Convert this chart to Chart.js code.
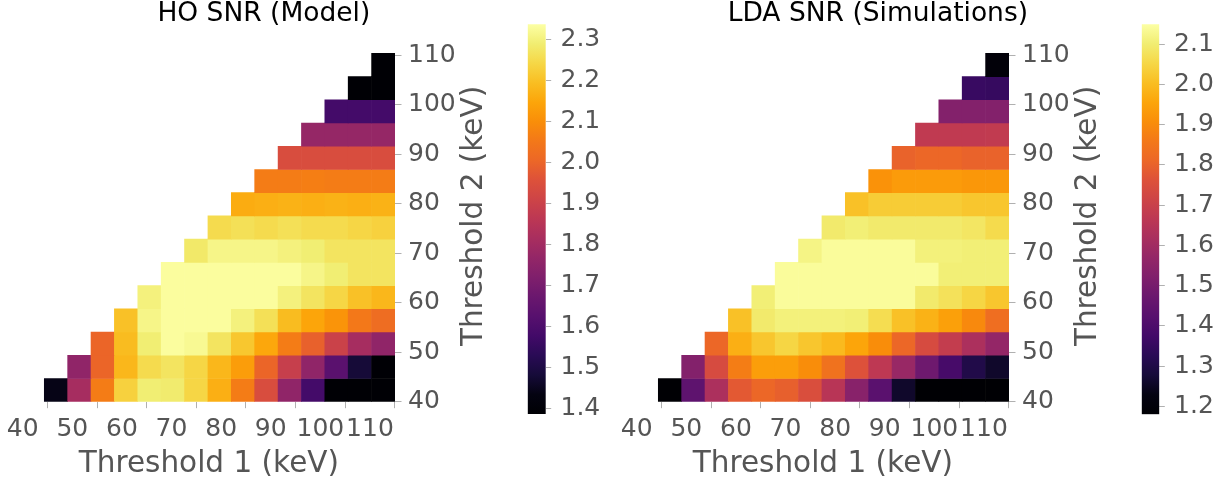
<!DOCTYPE html>
<html lang="en">
<head>
<meta charset="UTF-8">
<title>HO SNR (Model) / LDA SNR (Simulations)</title>
<script src="https://cdn.jsdelivr.net/npm/chart.js@4"></script>
<style>
  body { margin: 0; background: #fff; }
  .wrap { position: relative; width: 1226px; height: 482px; overflow: hidden; }
  canvas { position: absolute; top: 0; }
</style>
</head>
<body>
<div class="wrap">
  <canvas id="hoMap" width="505" height="482" style="left:0px"></canvas>
  <canvas id="hoBar" width="90" height="482" style="left:520px"></canvas>
  <canvas id="ldaMap" width="505" height="482" style="left:614px"></canvas>
  <canvas id="ldaBar" width="92" height="482" style="left:1134px"></canvas>
</div>
<script>
// cell centres along Threshold 1 and cell edges along Threshold 2 (keV)
const t1Centers = [46.71, 51.42, 56.13, 60.84, 65.56, 70.27, 74.98, 79.70, 84.41, 89.12, 93.84, 98.55, 103.26, 107.97, 112.69];
const t2Edges = [40, 44.69, 49.38, 54.07, 58.76, 63.45, 68.14, 72.83, 77.51, 82.20, 86.89, 91.58, 96.27, 100.96, 105.65, 110.34];

const t1Ticks = [40, 50, 60, 70, 80, 90, 100, 110];
const t2Ticks = [40, 50, 60, 70, 80, 90, 100, 110];
const hoBarTicks = [1.4, 1.5, 1.6, 1.7, 1.8, 1.9, 2.0, 2.1, 2.2, 2.3];
const ldaBarTicks = [1.2, 1.3, 1.4, 1.5, 1.6, 1.7, 1.8, 1.9, 2.0, 2.1];

const hoMin = 1.386, hoMax = 2.336;
const ldaMin = 1.18, ldaMax = 2.149;

// row j (bottom = 0) holds the cells of columns j..14
const hoSnr = [
  [1.44, 1.81, 2.06, 2.23, 2.29, 2.285, 2.24, 2.165, 2.06, 1.94, 1.76, 1.58, 1.39, 1.39, 1.39],
  [1.76, 2.00, 2.18, 2.25, 2.27, 2.24, 2.18, 2.13, 2.00, 1.89, 1.76, 1.63, 1.48, 1.39],
  [2.00, 2.19, 2.29, 2.33, 2.32, 2.27, 2.21, 2.15, 2.06, 1.99, 1.90, 1.81, 1.76],
  [2.20, 2.31, 2.33, 2.33, 2.33, 2.30, 2.26, 2.19, 2.146, 2.11, 2.05, 2.02],
  [2.30, 2.33, 2.33, 2.33, 2.33, 2.33, 2.30, 2.27, 2.24, 2.20, 2.18],
  [2.33, 2.33, 2.33, 2.33, 2.33, 2.33, 2.31, 2.29, 2.27, 2.27],
  [2.28, 2.31, 2.31, 2.31, 2.30, 2.29, 2.27, 2.27, 2.27],
  [2.25, 2.26, 2.25, 2.26, 2.25, 2.25, 2.24, 2.23],
  [2.16, 2.165, 2.17, 2.165, 2.17, 2.165, 2.17],
  [2.06, 2.06, 2.065, 2.06, 2.06, 2.06],
  [1.94, 1.94, 1.94, 1.94, 1.94],
  [1.77, 1.77, 1.77, 1.77],
  [1.58, 1.58, 1.58],
  [1.39, 1.39],
  [1.39]
];

const ldaSnr = [
  [1.18, 1.44, 1.625, 1.78, 1.81, 1.795, 1.75, 1.655, 1.54, 1.43, 1.26, 1.18, 1.18, 1.18, 1.18],
  [1.53, 1.74, 1.87, 1.94, 1.94, 1.905, 1.84, 1.76, 1.67, 1.58, 1.48, 1.385, 1.305, 1.26],
  [1.81, 1.975, 2.02, 2.05, 2.02, 1.995, 1.955, 1.905, 1.81, 1.74, 1.685, 1.625, 1.57],
  [2.01, 2.095, 2.11, 2.11, 2.11, 2.105, 2.065, 2.01, 1.98, 1.945, 1.895, 1.83],
  [2.105, 2.14, 2.14, 2.14, 2.14, 2.14, 2.14, 2.095, 2.075, 2.05, 2.02],
  [2.14, 2.14, 2.14, 2.14, 2.14, 2.14, 2.14, 2.105, 2.105, 2.105],
  [2.12, 2.14, 2.14, 2.14, 2.14, 2.11, 2.11, 2.105, 2.105],
  [2.095, 2.105, 2.095, 2.095, 2.095, 2.095, 2.085, 2.06],
  [2.01, 2.03, 2.03, 2.03, 2.03, 2.02, 2.02],
  [1.915, 1.935, 1.935, 1.935, 1.925, 1.925],
  [1.80, 1.81, 1.81, 1.80, 1.80],
  [1.675, 1.675, 1.675, 1.68],
  [1.53, 1.53, 1.53],
  [1.355, 1.35],
  [1.20]
];

// inferno colormap
const inferno = [
  [0.00, '#000004'], [0.05, '#040311'], [0.10, '#160b39'], [0.15, '#290b55'],
  [0.20, '#420a68'], [0.25, '#57106e'], [0.30, '#6a176e'], [0.35, '#7f1f6c'],
  [0.40, '#932667'], [0.45, '#a82e5f'], [0.50, '#bc3754'], [0.55, '#cd4447'],
  [0.60, '#dd513a'], [0.65, '#ec6727'], [0.70, '#f37819'], [0.75, '#f98e09'],
  [0.80, '#fca50a'], [0.85, '#f9be22'], [0.90, '#f6d746'], [0.95, '#f1ed71'],
  [1.00, '#fcffa4']
];

function hexRgb(h) {
  return [parseInt(h.slice(1, 3), 16), parseInt(h.slice(3, 5), 16), parseInt(h.slice(5, 7), 16)];
}

function infernoColor(t) {
  t = Math.max(0, Math.min(1, t));
  for (let i = 1; i < inferno.length; i++) {
    if (t <= inferno[i][0]) {
      const [t0, c0] = inferno[i - 1];
      const [t1, c1] = inferno[i];
      const f = (t - t0) / (t1 - t0);
      const a = hexRgb(c0), b = hexRgb(c1);
      const rgb = a.map((v, k) => Math.round(v + (b[k] - v) * f));
      return `rgb(${rgb[0]},${rgb[1]},${rgb[2]})`;
    }
  }
  return inferno[inferno.length - 1][1];
}

function cells(rows, vmin, vmax) {
  const data = [], colors = [];
  rows.forEach((row, j) => {
    row.forEach((v, k) => {
      const i = j + k;
      data.push({ x: t1Centers[i], y: [t2Edges[j], t2Edges[j + 1]], v: v });
      colors.push(infernoColor((v - vmin) / (vmax - vmin)));
    });
  });
  return { data, colors };
}

const FONT = "'DejaVu Sans', sans-serif";
const GREY = '#555555';
const TICKCOL = '#b0b0b0';

// rotated (bottom-to-top) title for the right-hand y axis
const sideTitle = {
  id: 'sideTitle',
  afterDraw(chart, args, opts) {
    const s = chart.scales.y;
    const c = chart.ctx;
    c.save();
    c.translate(s.left + opts.offset, (s.top + s.bottom) / 2);
    c.rotate(-Math.PI / 2);
    c.font = `${opts.size}px ${FONT}`;
    c.fillStyle = opts.color;
    c.textAlign = 'center';
    c.textBaseline = 'middle';
    c.fillText(opts.text, 0, 0);
    c.restore();
  }
};

function heatmap(id, title, rows, vmin, vmax) {
  const m = cells(rows, vmin, vmax);
  return new Chart(document.getElementById(id), {
    type: 'bar',
    data: {
      datasets: [{
        data: m.data,
        backgroundColor: m.colors,
        borderWidth: 0,
        barPercentage: 1,
        categoryPercentage: 1
      }]
    },
    plugins: [sideTitle],
    options: {
      responsive: false,
      animation: false,
      events: [],
      layout: { padding: { left: 22.7, top: 0, right: 0, bottom: 0 } },
      plugins: {
        legend: { display: false },
        tooltip: { enabled: false },
        title: {
          display: true,
          text: title,
          color: '#000',
          font: { family: FONT, size: 26.5, weight: 'normal', lineHeight: 1 },
          padding: { top: 1, bottom: 2.75 }
        },
        sideTitle: { text: 'Threshold 2 (keV)', offset: 79.8, size: 29.5, color: GREY }
      },
      scales: {
        x: {
          type: 'linear',
          min: 40,
          max: 115.05,
          offset: false,
          afterBuildTicks: (s) => { s.ticks = t1Ticks.map(v => ({ value: v })); },
          afterFit: (s) => { s.height = 80.3; },
          grid: { drawOnChartArea: false, drawTicks: true, tickLength: 6.5, color: TICKCOL },
          border: { display: false },
          ticks: { color: GREY, padding: 6, maxRotation: 0, autoSkip: false, font: { family: FONT, size: 25 } },
          title: {
            display: true,
            text: 'Threshold 1 (keV)',
            color: GREY,
            font: { family: FONT, size: 29.5, lineHeight: 1.2 },
            padding: { top: 0, bottom: 0 }
          }
        },
        y: {
          type: 'linear',
          position: 'right',
          min: 40,
          max: 115,
          afterBuildTicks: (s) => { s.ticks = t2Ticks.map(v => ({ value: v })); },
          afterFit: (s) => { s.width = 110; },
          grid: { drawOnChartArea: false, drawTicks: true, tickLength: 6.5, color: TICKCOL },
          border: { display: false },
          ticks: { color: GREY, padding: 6.5, autoSkip: false, font: { family: FONT, size: 25 } }
        }
      }
    }
  });
}

function colorbar(id, vmin, vmax, tickVals, padLeft, padBottom, axisWidth) {
  return new Chart(document.getElementById(id), {
    type: 'bar',
    data: {
      labels: [''],
      datasets: [{
        data: [[vmin, vmax]],
        borderWidth: 0,
        barPercentage: 1,
        categoryPercentage: 1,
        backgroundColor: (ctx) => {
          const area = ctx.chart.chartArea;
          if (!area) return '#000';
          const g = ctx.chart.ctx.createLinearGradient(0, area.bottom, 0, area.top);
          inferno.forEach(([t, c]) => g.addColorStop(t, c));
          return g;
        }
      }]
    },
    options: {
      responsive: false,
      animation: false,
      events: [],
      layout: { padding: { left: padLeft, top: 19.3, right: 0, bottom: padBottom } },
      plugins: { legend: { display: false }, tooltip: { enabled: false } },
      scales: {
        x: { display: false },
        y: {
          position: 'right',
          min: vmin,
          max: vmax,
          afterBuildTicks: (s) => { s.ticks = tickVals.map(v => ({ value: v })); },
          afterFit: (s) => { s.width = axisWidth; },
          grid: { drawOnChartArea: false, drawTicks: true, tickLength: 5.5, color: TICKCOL },
          border: { display: false },
          ticks: {
            color: GREY,
            padding: 9.3,
            autoSkip: false,
            font: { family: FONT, size: 25 },
            callback: (v) => Number(v).toFixed(1)
          }
        }
      }
    }
  });
}

heatmap('hoMap', 'HO SNR (Model)', hoSnr, hoMin, hoMax);
heatmap('ldaMap', 'LDA SNR (Simulations)', ldaSnr, ldaMin, ldaMax);
colorbar('hoBar', hoMin, hoMax, hoBarTicks, 7.7, 68, 64.3);
colorbar('ldaBar', ldaMin, ldaMax, ldaBarTicks, 7.7, 67.7, 66.7);
</script>
</body>
</html>
